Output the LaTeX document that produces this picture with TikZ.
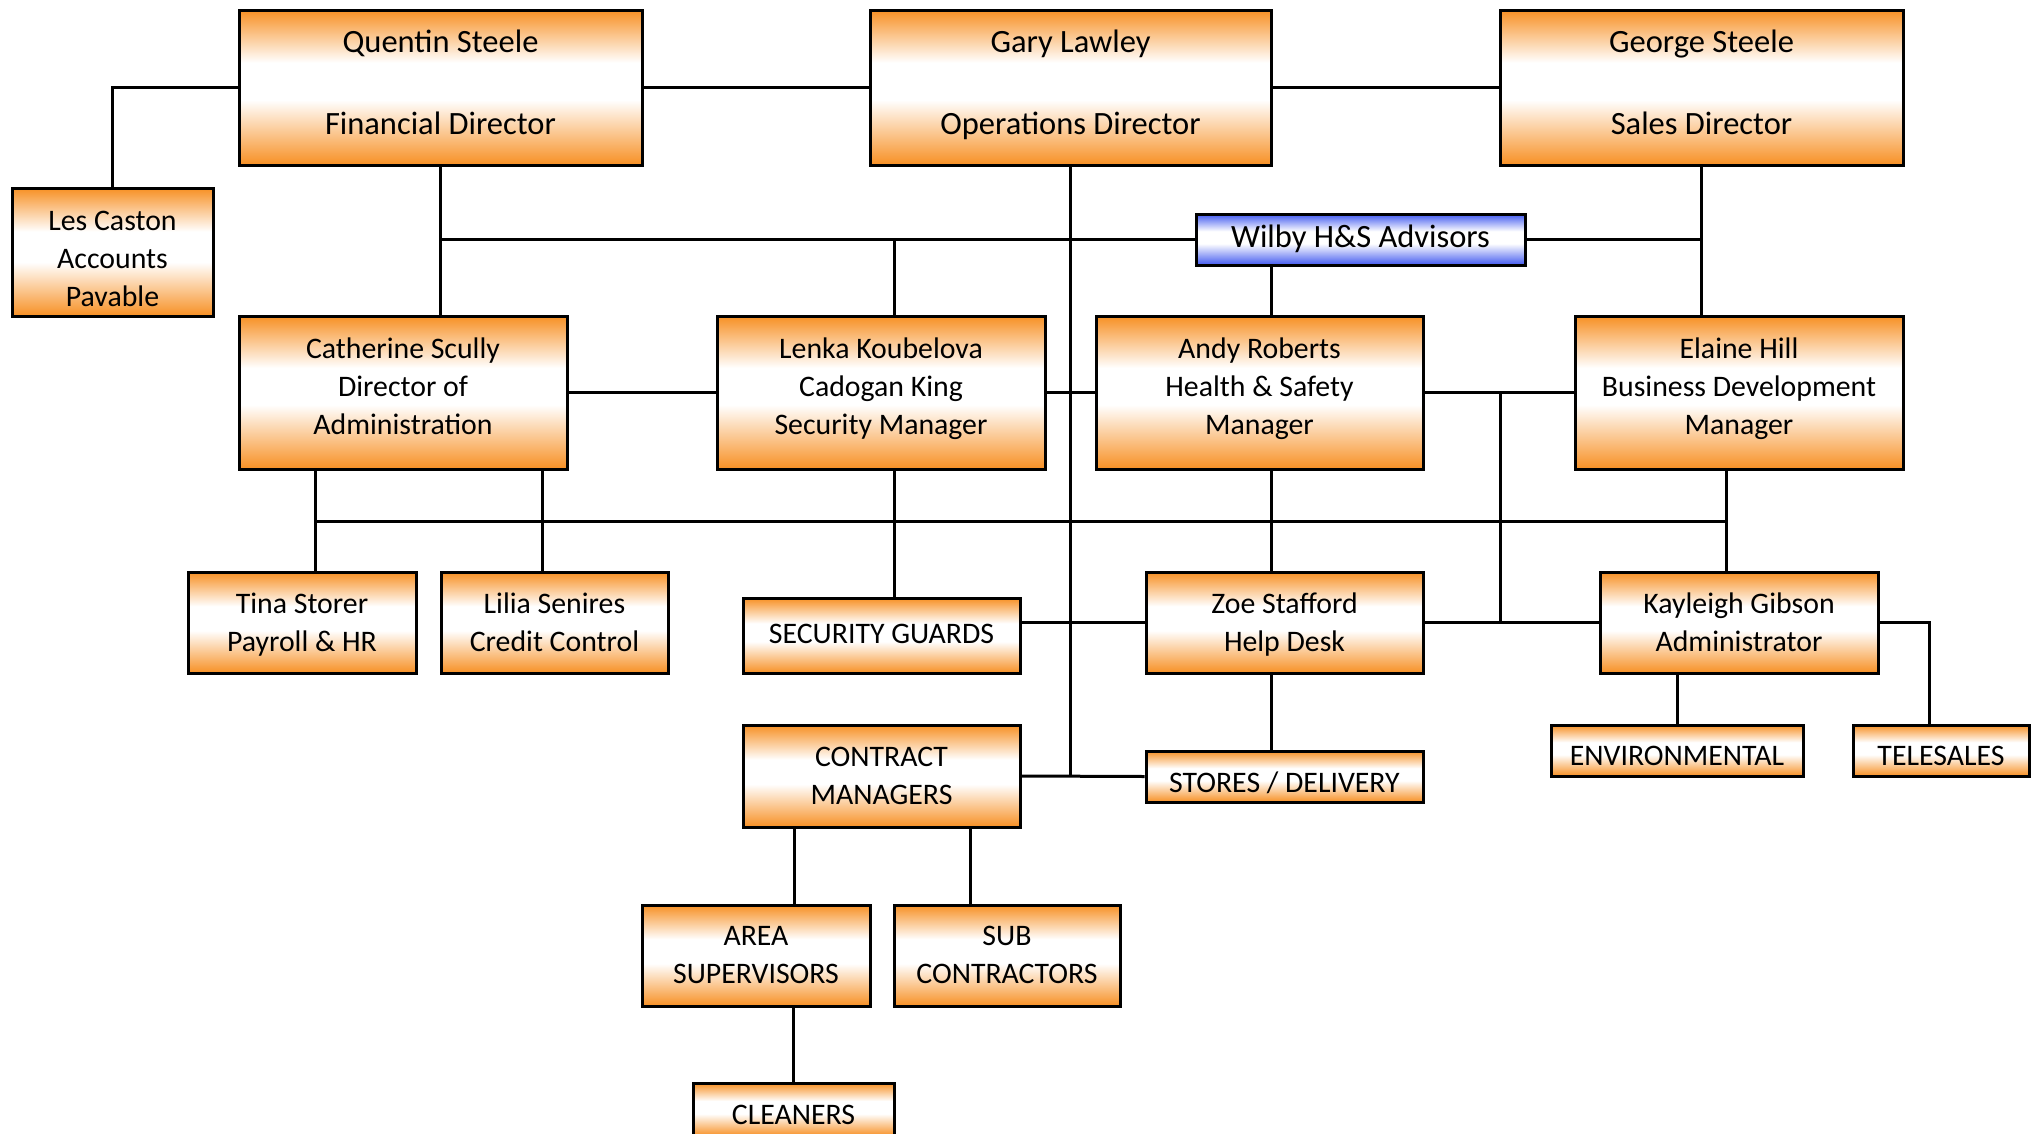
\documentclass[tikz,border=0pt]{standalone}
\usepackage{fontspec}
\setmainfont{Carlito}
\definecolor{orn}{RGB}{247,144,36}
\definecolor{blu}{RGB}{66,90,240}
\pgfdeclareverticalshading{orangebar}{100bp}{color(0bp)=(orn); color(25bp)=(orn); color(46bp)=(white); color(58bp)=(white); color(75bp)=(orn); color(100bp)=(orn)}
\pgfdeclareverticalshading{bluebar}{100bp}{color(0bp)=(blu); color(25bp)=(blu); color(46bp)=(white); color(58bp)=(white); color(75bp)=(blu); color(100bp)=(blu)}
% text block, shifted up by #1 pt from the box centre
\newcommand\tx[2][0]{\raisebox{\dimexpr #1pt - 9.5pt\relax}[0pt][0pt]{\begin{tabular}{@{}c@{}}#2\end{tabular}}}
\tikzset{
  box/.style={draw=black, line width=3pt, shade, shading=orangebar, inner sep=0pt,
              font=\fontsize{29.8}{38}\selectfont},
  bigbox/.style={box, font=\fontsize{32.5}{41}\selectfont},
  bluebox/.style={box, shading=bluebar, font=\fontsize{32.5}{41}\selectfont},
  conn/.style={draw=black, line width=3pt},
}
\begin{document}
\begin{tikzpicture}[x=1pt, y=-1pt]
\useasboundingbox (0,0) rectangle (2038,1133);
\fill[white] (0,0) rectangle (2038,1133);
\clip (0,0) rectangle (2038,1133);

% top row
\node[bigbox, minimum width=403, minimum height=155] (quentin) at (440.5,87.5) {\tx[5]{Quentin Steele\\[41pt]Financial Director}};
\node[bigbox, minimum width=401, minimum height=155] (gary) at (1070.5,87.5) {\tx[5]{Gary Lawley\\[41pt]Operations Director}};
\node[bigbox, minimum width=403, minimum height=155] (george) at (1701.5,87.5) {\tx[5]{George Steele\\[41pt]Sales Director}};
\node[box, minimum width=201, minimum height=128] (les) at (112.5,252) {\tx[-6]{Les Caston\\Accounts\\Pavable}};
\node[bluebox, minimum width=329, minimum height=51] (wilby) at (1360.5,239.5) {\tx[3]{Wilby H\&S Advisors}};

% second row
\node[box, minimum width=328, minimum height=153] (catherine) at (403,392.5) {\tx[7]{Catherine Scully\\Director of\\Administration}};
\node[box, minimum width=328, minimum height=153] (lenka) at (881,392.5) {\tx[7]{Lenka Koubelova\\Cadogan King\\Security Manager}};
\node[box, minimum width=327, minimum height=153] (andy) at (1259.5,392.5) {\tx[7]{Andy Roberts\\Health \& Safety\\Manager}};
\node[box, minimum width=328, minimum height=153] (elaine) at (1739,392.5) {\tx[7]{Elaine Hill\\Business Development\\Manager}};

% third row
\node[box, minimum width=228, minimum height=101] (tina) at (302,622.5) {\tx[1]{Tina Storer\\Payroll \& HR}};
\node[box, minimum width=227, minimum height=101] (lilia) at (554.5,622.5) {\tx[1]{Lilia Senires\\Credit Control}};
\node[box, minimum width=277, minimum height=75] (security) at (881.5,635.5) {\tx[2.5]{SECURITY GUARDS}};
\node[box, minimum width=277, minimum height=101] (zoe) at (1284.5,622.5) {\tx[0.5]{Zoe Stafford\\Help Desk}};
\node[box, minimum width=278, minimum height=101] (kayleigh) at (1739,622.5) {\tx[0.5]{Kayleigh Gibson\\Administrator}};

% fourth row
\node[box, minimum width=252, minimum height=51] (environmental) at (1677,750.5) {\tx[-4]{ENVIRONMENTAL}};
\node[box, minimum width=176, minimum height=51] (telesales) at (1941,750.5) {\tx[-4]{TELESALES}};
\node[box, minimum width=277, minimum height=51] (stores) at (1284.5,776.5) {\tx[-5]{STORES / DELIVERY}};
\node[box, minimum width=277, minimum height=102] (contract) at (881.5,776) {\tx[1.5]{CONTRACT\\MANAGERS}};
\node[box, minimum width=228, minimum height=101] (area) at (756,955.5) {\tx[1.5]{AREA\\SUPERVISORS}};
\node[box, minimum width=226, minimum height=101] (sub) at (1007,955.5) {\tx[1.5]{SUB\\CONTRACTORS}};
\node[box, minimum width=201, minimum height=53] (cleaners) at (793.5,1109.5) {\tx[-4.5]{CLEANERS}};

% helper x positions
\coordinate (lk) at (894,0);
\coordinate (wb) at (1271,0);
\coordinate (v1) at (1500,0);
\coordinate (hb) at (0,521);
\coordinate (c1) at (315,0);
\coordinate (c2) at (542,0);
\coordinate (e1) at (1726,0);
\coordinate (t1) at (1929,0);
\coordinate (a1) at (794,0);
\coordinate (s1) at (970,0);

% connectors
\draw[conn] (quentin.west) -| (les.north);
\draw[conn] (quentin.east) -- (gary.west);
\draw[conn] (gary.east) -- (george.west);
\draw[conn] (quentin.south) -- (quentin.south |- catherine.north);
\draw[conn] (quentin.south |- wilby.west) -- (wilby.west);
\draw[conn] (wilby.east) -- (george.south |- wilby.east);
\draw[conn] (george.south) -- (george.south |- elaine.north);
\draw[conn] (lk |- wilby.west) -- (lk |- lenka.north);
\draw[conn] (wb |- wilby.south) -- (wb |- andy.north);
\draw[conn] (gary.south) -- (gary.south |- stores.west);
\draw[conn] (catherine.east) -- (lenka.west);
\draw[conn] (lenka.east) -- (andy.west);
\draw[conn] (andy.east) -- (elaine.west);
\draw[conn] (v1 |- elaine.west) -- (v1 |- kayleigh.west);
\draw[conn] (c1 |- hb) -- (e1 |- hb);
\draw[conn] (c1 |- catherine.south) -- (c1 |- tina.north);
\draw[conn] (c2 |- catherine.south) -- (c2 |- lilia.north);
\draw[conn] (e1 |- elaine.south) -- (e1 |- kayleigh.north);
\draw[conn] (wb |- andy.south) -- (wb |- zoe.north);
\draw[conn] (lk |- lenka.south) -- (lk |- security.north);
\draw[conn] (security.east |- zoe.west) -- (zoe.west);
\draw[conn] (zoe.east) -- (kayleigh.west);
\draw[conn] (kayleigh.east) -| (t1 |- telesales.north);
\draw[conn] (kayleigh.south -| environmental.north) -- (environmental.north);
\draw[conn] (wb |- zoe.south) -- (wb |- stores.north);
\draw[conn] (contract.east) -- (stores.west);
\draw[conn] (a1 |- contract.south) -- (a1 |- area.north);
\draw[conn] (s1 |- contract.south) -- (s1 |- sub.north);
\draw[conn] (area.south -| cleaners.north) -- (cleaners.north);
\end{tikzpicture}
\end{document}
